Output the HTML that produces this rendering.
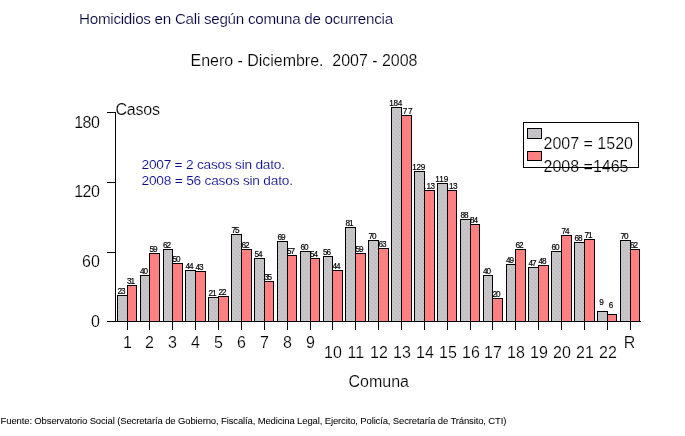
<!DOCTYPE html>
<html lang="es"><head><meta charset="utf-8"><title>Homicidios en Cali según comuna de ocurrencia</title>
<style>
html,body{margin:0;padding:0;background:#fff;}
body{width:685px;height:436px;overflow:hidden;}
svg{display:block;font-family:"Liberation Sans",sans-serif;shape-rendering:crispEdges;}
text{paint-order:fill stroke;}
</style></head><body>
<svg width="685" height="436" viewBox="0 0 685 436">
<defs><pattern id="g" width="4" height="4" patternUnits="userSpaceOnUse"><rect width="4" height="4" fill="#c7c5c7"/><rect x="1" y="1" width="1" height="1" fill="#bbb9bb"/><rect x="3" y="3" width="1" height="1" fill="#bbb9bb"/></pattern></defs>
<rect width="685" height="436" fill="#fff"/>
<rect x="127" y="285" width="10" height="36" fill="#000"/>
<rect x="128" y="286" width="8" height="35" fill="#ff8080"/>
<text x="131.0" y="283.5" font-size="8.2" text-anchor="middle" fill="#000" stroke="#000" stroke-width="0.18" textLength="8.1" lengthAdjust="spacing">31</text>
<rect x="149" y="253" width="11" height="68" fill="#000"/>
<rect x="150" y="254" width="9" height="67" fill="#ff8080"/>
<text x="153.5" y="251.5" font-size="8.2" text-anchor="middle" fill="#000" stroke="#000" stroke-width="0.18" textLength="8.1" lengthAdjust="spacing">59</text>
<rect x="172" y="263" width="11" height="58" fill="#000"/>
<rect x="173" y="264" width="9" height="57" fill="#ff8080"/>
<text x="176.5" y="261.5" font-size="8.2" text-anchor="middle" fill="#000" stroke="#000" stroke-width="0.18" textLength="8.1" lengthAdjust="spacing">50</text>
<rect x="195" y="271" width="11" height="50" fill="#000"/>
<rect x="196" y="272" width="9" height="49" fill="#ff8080"/>
<text x="199.5" y="269.5" font-size="8.2" text-anchor="middle" fill="#000" stroke="#000" stroke-width="0.18" textLength="8.1" lengthAdjust="spacing">43</text>
<rect x="218" y="296" width="11" height="25" fill="#000"/>
<rect x="219" y="297" width="9" height="24" fill="#ff8080"/>
<text x="222.5" y="294.5" font-size="8.2" text-anchor="middle" fill="#000" stroke="#000" stroke-width="0.18" textLength="8.1" lengthAdjust="spacing">22</text>
<rect x="241" y="249" width="11" height="72" fill="#000"/>
<rect x="242" y="250" width="9" height="71" fill="#ff8080"/>
<text x="245.5" y="247.5" font-size="8.2" text-anchor="middle" fill="#000" stroke="#000" stroke-width="0.18" textLength="8.1" lengthAdjust="spacing">62</text>
<rect x="264" y="281" width="10" height="40" fill="#000"/>
<rect x="265" y="282" width="8" height="39" fill="#ff8080"/>
<text x="268.0" y="279.5" font-size="8.2" text-anchor="middle" fill="#000" stroke="#000" stroke-width="0.18" textLength="8.1" lengthAdjust="spacing">35</text>
<rect x="287" y="255" width="10" height="66" fill="#000"/>
<rect x="288" y="256" width="8" height="65" fill="#ff8080"/>
<text x="291.0" y="253.5" font-size="8.2" text-anchor="middle" fill="#000" stroke="#000" stroke-width="0.18" textLength="8.1" lengthAdjust="spacing">57</text>
<rect x="310" y="258" width="10" height="63" fill="#000"/>
<rect x="311" y="259" width="8" height="62" fill="#ff8080"/>
<text x="314.0" y="256.5" font-size="8.2" text-anchor="middle" fill="#000" stroke="#000" stroke-width="0.18" textLength="8.1" lengthAdjust="spacing">54</text>
<rect x="332" y="270" width="11" height="51" fill="#000"/>
<rect x="333" y="271" width="9" height="50" fill="#ff8080"/>
<text x="336.5" y="268.5" font-size="8.2" text-anchor="middle" fill="#000" stroke="#000" stroke-width="0.18" textLength="8.1" lengthAdjust="spacing">44</text>
<rect x="355" y="253" width="11" height="68" fill="#000"/>
<rect x="356" y="254" width="9" height="67" fill="#ff8080"/>
<text x="359.5" y="251.5" font-size="8.2" text-anchor="middle" fill="#000" stroke="#000" stroke-width="0.18" textLength="8.1" lengthAdjust="spacing">59</text>
<rect x="378" y="248" width="11" height="73" fill="#000"/>
<rect x="379" y="249" width="9" height="72" fill="#ff8080"/>
<text x="382.5" y="246.5" font-size="8.2" text-anchor="middle" fill="#000" stroke="#000" stroke-width="0.18" textLength="8.1" lengthAdjust="spacing">63</text>
<rect x="401" y="115" width="11" height="206" fill="#000"/>
<rect x="402" y="116" width="9" height="205" fill="#ff8080"/>
<text x="397.90 402.70 407.90" y="113.5" font-size="8.2" text-anchor="start" fill="#000" stroke="#000" stroke-width="0.18">177</text>
<rect x="424" y="190" width="11" height="131" fill="#000"/>
<rect x="425" y="191" width="9" height="130" fill="#ff8080"/>
<text x="421.40 426.50 430.60" y="188.5" font-size="8.2" text-anchor="start" fill="#000" stroke="#000" stroke-width="0.18">113</text>
<rect x="447" y="190" width="10" height="131" fill="#000"/>
<rect x="448" y="191" width="8" height="130" fill="#ff8080"/>
<text x="443.90 449.00 453.10" y="188.5" font-size="8.2" text-anchor="start" fill="#000" stroke="#000" stroke-width="0.18">113</text>
<rect x="470" y="224" width="10" height="97" fill="#000"/>
<rect x="471" y="225" width="8" height="96" fill="#ff8080"/>
<text x="474.0" y="222.5" font-size="8.2" text-anchor="middle" fill="#000" stroke="#000" stroke-width="0.18" textLength="8.1" lengthAdjust="spacing">84</text>
<rect x="492" y="298" width="11" height="23" fill="#000"/>
<rect x="493" y="299" width="9" height="22" fill="#ff8080"/>
<text x="496.5" y="296.5" font-size="8.2" text-anchor="middle" fill="#000" stroke="#000" stroke-width="0.18" textLength="8.1" lengthAdjust="spacing">20</text>
<rect x="515" y="249" width="11" height="72" fill="#000"/>
<rect x="516" y="250" width="9" height="71" fill="#ff8080"/>
<text x="519.5" y="247.5" font-size="8.2" text-anchor="middle" fill="#000" stroke="#000" stroke-width="0.18" textLength="8.1" lengthAdjust="spacing">62</text>
<rect x="538" y="265" width="11" height="56" fill="#000"/>
<rect x="539" y="266" width="9" height="55" fill="#ff8080"/>
<text x="542.5" y="263.5" font-size="8.2" text-anchor="middle" fill="#000" stroke="#000" stroke-width="0.18" textLength="8.1" lengthAdjust="spacing">48</text>
<rect x="561" y="235" width="11" height="86" fill="#000"/>
<rect x="562" y="236" width="9" height="85" fill="#ff8080"/>
<text x="565.5" y="233.5" font-size="8.2" text-anchor="middle" fill="#000" stroke="#000" stroke-width="0.18" textLength="8.1" lengthAdjust="spacing">74</text>
<rect x="584" y="239" width="11" height="82" fill="#000"/>
<rect x="585" y="240" width="9" height="81" fill="#ff8080"/>
<text x="588.5" y="237.5" font-size="8.2" text-anchor="middle" fill="#000" stroke="#000" stroke-width="0.18" textLength="8.1" lengthAdjust="spacing">71</text>
<rect x="607" y="314" width="10" height="7" fill="#000"/>
<rect x="608" y="315" width="8" height="6" fill="#ff8080"/>
<text x="611.0" y="307.5" font-size="8.2" text-anchor="middle" fill="#000" stroke="#000" stroke-width="0.18">6</text>
<rect x="630" y="249" width="10" height="72" fill="#000"/>
<rect x="631" y="250" width="8" height="71" fill="#ff8080"/>
<text x="634.0" y="247.5" font-size="8.2" text-anchor="middle" fill="#000" stroke="#000" stroke-width="0.18" textLength="8.1" lengthAdjust="spacing">62</text>
<rect x="117" y="295" width="11" height="26" fill="#000"/>
<rect x="118" y="296" width="9" height="25" fill="url(#g)"/>
<text x="121.5" y="293.5" font-size="8.2" text-anchor="middle" fill="#000" stroke="#000" stroke-width="0.18" textLength="8.1" lengthAdjust="spacing">23</text>
<rect x="140" y="275" width="10" height="46" fill="#000"/>
<rect x="141" y="276" width="8" height="45" fill="url(#g)"/>
<text x="144.0" y="273.5" font-size="8.2" text-anchor="middle" fill="#000" stroke="#000" stroke-width="0.18" textLength="8.1" lengthAdjust="spacing">40</text>
<rect x="163" y="249" width="10" height="72" fill="#000"/>
<rect x="164" y="250" width="8" height="71" fill="url(#g)"/>
<text x="167.0" y="247.5" font-size="8.2" text-anchor="middle" fill="#000" stroke="#000" stroke-width="0.18" textLength="8.1" lengthAdjust="spacing">62</text>
<rect x="185" y="270" width="11" height="51" fill="#000"/>
<rect x="186" y="271" width="9" height="50" fill="url(#g)"/>
<text x="189.5" y="268.5" font-size="8.2" text-anchor="middle" fill="#000" stroke="#000" stroke-width="0.18" textLength="8.1" lengthAdjust="spacing">44</text>
<rect x="208" y="297" width="11" height="24" fill="#000"/>
<rect x="209" y="298" width="9" height="23" fill="url(#g)"/>
<text x="212.5" y="295.5" font-size="8.2" text-anchor="middle" fill="#000" stroke="#000" stroke-width="0.18" textLength="8.1" lengthAdjust="spacing">21</text>
<rect x="231" y="234" width="11" height="87" fill="#000"/>
<rect x="232" y="235" width="9" height="86" fill="url(#g)"/>
<text x="235.5" y="232.5" font-size="8.2" text-anchor="middle" fill="#000" stroke="#000" stroke-width="0.18" textLength="8.1" lengthAdjust="spacing">75</text>
<rect x="254" y="258" width="11" height="63" fill="#000"/>
<rect x="255" y="259" width="9" height="62" fill="url(#g)"/>
<text x="258.5" y="256.5" font-size="8.2" text-anchor="middle" fill="#000" stroke="#000" stroke-width="0.18" textLength="8.1" lengthAdjust="spacing">54</text>
<rect x="277" y="241" width="11" height="80" fill="#000"/>
<rect x="278" y="242" width="9" height="79" fill="url(#g)"/>
<text x="281.5" y="239.5" font-size="8.2" text-anchor="middle" fill="#000" stroke="#000" stroke-width="0.18" textLength="8.1" lengthAdjust="spacing">69</text>
<rect x="300" y="251" width="11" height="70" fill="#000"/>
<rect x="301" y="252" width="9" height="69" fill="url(#g)"/>
<text x="304.5" y="249.5" font-size="8.2" text-anchor="middle" fill="#000" stroke="#000" stroke-width="0.18" textLength="8.1" lengthAdjust="spacing">60</text>
<rect x="323" y="256" width="10" height="65" fill="#000"/>
<rect x="324" y="257" width="8" height="64" fill="url(#g)"/>
<text x="327.0" y="254.5" font-size="8.2" text-anchor="middle" fill="#000" stroke="#000" stroke-width="0.18" textLength="8.1" lengthAdjust="spacing">56</text>
<rect x="345" y="227" width="11" height="94" fill="#000"/>
<rect x="346" y="228" width="9" height="93" fill="url(#g)"/>
<text x="349.5" y="225.5" font-size="8.2" text-anchor="middle" fill="#000" stroke="#000" stroke-width="0.18" textLength="8.1" lengthAdjust="spacing">81</text>
<rect x="368" y="240" width="11" height="81" fill="#000"/>
<rect x="369" y="241" width="9" height="80" fill="url(#g)"/>
<text x="372.5" y="238.5" font-size="8.2" text-anchor="middle" fill="#000" stroke="#000" stroke-width="0.18" textLength="8.1" lengthAdjust="spacing">70</text>
<rect x="391" y="107" width="11" height="214" fill="#000"/>
<rect x="392" y="108" width="9" height="213" fill="url(#g)"/>
<text x="395.8" y="105.5" font-size="8.2" text-anchor="middle" fill="#000" stroke="#000" stroke-width="0.18" textLength="12.9" lengthAdjust="spacing">184</text>
<rect x="414" y="171" width="11" height="150" fill="#000"/>
<rect x="415" y="172" width="9" height="149" fill="url(#g)"/>
<text x="418.8" y="169.5" font-size="8.2" text-anchor="middle" fill="#000" stroke="#000" stroke-width="0.18" textLength="12.9" lengthAdjust="spacing">129</text>
<rect x="437" y="183" width="11" height="138" fill="#000"/>
<rect x="438" y="184" width="9" height="137" fill="url(#g)"/>
<text x="441.8" y="181.5" font-size="8.2" text-anchor="middle" fill="#000" stroke="#000" stroke-width="0.18" textLength="12.9" lengthAdjust="spacing">119</text>
<rect x="460" y="219" width="11" height="102" fill="#000"/>
<rect x="461" y="220" width="9" height="101" fill="url(#g)"/>
<text x="464.5" y="217.5" font-size="8.2" text-anchor="middle" fill="#000" stroke="#000" stroke-width="0.18" textLength="8.1" lengthAdjust="spacing">88</text>
<rect x="483" y="275" width="10" height="46" fill="#000"/>
<rect x="484" y="276" width="8" height="45" fill="url(#g)"/>
<text x="487.0" y="273.5" font-size="8.2" text-anchor="middle" fill="#000" stroke="#000" stroke-width="0.18" textLength="8.1" lengthAdjust="spacing">40</text>
<rect x="506" y="264" width="10" height="57" fill="#000"/>
<rect x="507" y="265" width="8" height="56" fill="url(#g)"/>
<text x="510.0" y="262.5" font-size="8.2" text-anchor="middle" fill="#000" stroke="#000" stroke-width="0.18" textLength="8.1" lengthAdjust="spacing">49</text>
<rect x="528" y="267" width="11" height="54" fill="#000"/>
<rect x="529" y="268" width="9" height="53" fill="url(#g)"/>
<text x="532.5" y="265.5" font-size="8.2" text-anchor="middle" fill="#000" stroke="#000" stroke-width="0.18" textLength="8.1" lengthAdjust="spacing">47</text>
<rect x="551" y="251" width="11" height="70" fill="#000"/>
<rect x="552" y="252" width="9" height="69" fill="url(#g)"/>
<text x="555.5" y="249.5" font-size="8.2" text-anchor="middle" fill="#000" stroke="#000" stroke-width="0.18" textLength="8.1" lengthAdjust="spacing">60</text>
<rect x="574" y="242" width="11" height="79" fill="#000"/>
<rect x="575" y="243" width="9" height="78" fill="url(#g)"/>
<text x="578.5" y="240.5" font-size="8.2" text-anchor="middle" fill="#000" stroke="#000" stroke-width="0.18" textLength="8.1" lengthAdjust="spacing">68</text>
<rect x="597" y="311" width="11" height="10" fill="#000"/>
<rect x="598" y="312" width="9" height="9" fill="url(#g)"/>
<text x="601.5" y="304.5" font-size="8.2" text-anchor="middle" fill="#000" stroke="#000" stroke-width="0.18">9</text>
<rect x="620" y="240" width="11" height="81" fill="#000"/>
<rect x="621" y="241" width="9" height="80" fill="url(#g)"/>
<text x="624.5" y="238.5" font-size="8.2" text-anchor="middle" fill="#000" stroke="#000" stroke-width="0.18" textLength="8.1" lengthAdjust="spacing">70</text>
<rect x="127" y="321" width="1" height="9" fill="#000"/>
<text x="127.5" y="347.5" font-size="16" text-anchor="middle" fill="#000" stroke="#fff" stroke-width="0.18">1</text>
<rect x="149" y="321" width="1" height="9" fill="#000"/>
<text x="149.5" y="347.5" font-size="16" text-anchor="middle" fill="#000" stroke="#fff" stroke-width="0.18">2</text>
<rect x="172" y="321" width="1" height="9" fill="#000"/>
<text x="172.5" y="347.5" font-size="16" text-anchor="middle" fill="#000" stroke="#fff" stroke-width="0.18">3</text>
<rect x="195" y="321" width="1" height="9" fill="#000"/>
<text x="195.5" y="347.5" font-size="16" text-anchor="middle" fill="#000" stroke="#fff" stroke-width="0.18">4</text>
<rect x="218" y="321" width="1" height="9" fill="#000"/>
<text x="218.5" y="347.5" font-size="16" text-anchor="middle" fill="#000" stroke="#fff" stroke-width="0.18">5</text>
<rect x="241" y="321" width="1" height="9" fill="#000"/>
<text x="241.5" y="347.5" font-size="16" text-anchor="middle" fill="#000" stroke="#fff" stroke-width="0.18">6</text>
<rect x="264" y="321" width="1" height="9" fill="#000"/>
<text x="264.5" y="347.5" font-size="16" text-anchor="middle" fill="#000" stroke="#fff" stroke-width="0.18">7</text>
<rect x="287" y="321" width="1" height="9" fill="#000"/>
<text x="287.5" y="347.5" font-size="16" text-anchor="middle" fill="#000" stroke="#fff" stroke-width="0.18">8</text>
<rect x="310" y="321" width="1" height="9" fill="#000"/>
<text x="310.5" y="347.5" font-size="16" text-anchor="middle" fill="#000" stroke="#fff" stroke-width="0.18">9</text>
<rect x="332" y="321" width="1" height="9" fill="#000"/>
<text x="332.9" y="358" font-size="16" text-anchor="middle" fill="#000" stroke="#fff" stroke-width="0.18">10</text>
<rect x="355" y="321" width="1" height="9" fill="#000"/>
<text x="355.9" y="358" font-size="16" text-anchor="middle" fill="#000" stroke="#fff" stroke-width="0.18">11</text>
<rect x="378" y="321" width="1" height="9" fill="#000"/>
<text x="378.9" y="358" font-size="16" text-anchor="middle" fill="#000" stroke="#fff" stroke-width="0.18">12</text>
<rect x="401" y="321" width="1" height="9" fill="#000"/>
<text x="401.9" y="358" font-size="16" text-anchor="middle" fill="#000" stroke="#fff" stroke-width="0.18">13</text>
<rect x="424" y="321" width="1" height="9" fill="#000"/>
<text x="424.9" y="358" font-size="16" text-anchor="middle" fill="#000" stroke="#fff" stroke-width="0.18">14</text>
<rect x="447" y="321" width="1" height="9" fill="#000"/>
<text x="447.9" y="358" font-size="16" text-anchor="middle" fill="#000" stroke="#fff" stroke-width="0.18">15</text>
<rect x="470" y="321" width="1" height="9" fill="#000"/>
<text x="470.9" y="358" font-size="16" text-anchor="middle" fill="#000" stroke="#fff" stroke-width="0.18">16</text>
<rect x="492" y="321" width="1" height="9" fill="#000"/>
<text x="492.9" y="358" font-size="16" text-anchor="middle" fill="#000" stroke="#fff" stroke-width="0.18">17</text>
<rect x="515" y="321" width="1" height="9" fill="#000"/>
<text x="515.9" y="358" font-size="16" text-anchor="middle" fill="#000" stroke="#fff" stroke-width="0.18">18</text>
<rect x="538" y="321" width="1" height="9" fill="#000"/>
<text x="538.9" y="358" font-size="16" text-anchor="middle" fill="#000" stroke="#fff" stroke-width="0.18">19</text>
<rect x="561" y="321" width="1" height="9" fill="#000"/>
<text x="561.9" y="358" font-size="16" text-anchor="middle" fill="#000" stroke="#fff" stroke-width="0.18">20</text>
<rect x="584" y="321" width="1" height="9" fill="#000"/>
<text x="584.9" y="358" font-size="16" text-anchor="middle" fill="#000" stroke="#fff" stroke-width="0.18">21</text>
<rect x="607" y="321" width="1" height="9" fill="#000"/>
<text x="607.9" y="358" font-size="16" text-anchor="middle" fill="#000" stroke="#fff" stroke-width="0.18">22</text>
<rect x="630" y="321" width="1" height="9" fill="#000"/>
<text x="629.5" y="347.5" font-size="16" text-anchor="middle" fill="#000" stroke="#fff" stroke-width="0.18">R</text>
<rect x="115" y="112" width="1" height="210" fill="#000"/>
<rect x="107" y="321" width="534" height="1" fill="#000"/>
<rect x="107" y="321" width="9" height="1" fill="#000"/>
<text x="99.8" y="327" font-size="16" text-anchor="end" fill="#000" stroke="#fff" stroke-width="0.18">0</text>
<rect x="107" y="252" width="9" height="1" fill="#000"/>
<text x="99.8" y="266.5" font-size="16" text-anchor="end" fill="#000" stroke="#fff" stroke-width="0.18">60</text>
<rect x="107" y="182" width="9" height="1" fill="#000"/>
<text x="99.8" y="196.6" font-size="16" text-anchor="end" fill="#000" stroke="#fff" stroke-width="0.18" textLength="25.6" lengthAdjust="spacing">120</text>
<rect x="107" y="112" width="9" height="1" fill="#000"/>
<text x="99.8" y="127.6" font-size="16" text-anchor="end" fill="#000" stroke="#fff" stroke-width="0.18" textLength="25.6" lengthAdjust="spacing">180</text>
<text x="115.5" y="115" font-size="16" text-anchor="start" fill="#000" stroke="#fff" stroke-width="0.18" textLength="44.4" lengthAdjust="spacing">Casos</text>
<text x="348.5" y="386.75" font-size="16" text-anchor="start" fill="#000" stroke="#fff" stroke-width="0.18">Comuna</text>
<text x="79.1" y="24" font-size="15.2" text-anchor="start" fill="#00003c" stroke="#fff" stroke-width="0.18" textLength="314" lengthAdjust="spacing">Homicidios en Cali según comuna de ocurrencia</text>
<text x="190.5" y="65.75" font-size="16" text-anchor="start" fill="#000" stroke="#fff" stroke-width="0.18" textLength="227" lengthAdjust="spacing" style="white-space:pre">Enero - Diciembre.  2007 - 2008</text>
<text x="141.5" y="169" font-size="13.7" text-anchor="start" fill="#0c0c90" stroke="#fff" stroke-width="0.12" textLength="143.5" lengthAdjust="spacing">2007 = 2 casos sin dato.</text>
<text x="141.5" y="185" font-size="13.7" text-anchor="start" fill="#0c0c90" stroke="#fff" stroke-width="0.12" textLength="151.5" lengthAdjust="spacing">2008 = 56 casos sin dato.</text>
<text x="0.6" y="423.75" font-size="9.5" text-anchor="start" fill="#000" stroke="#000" stroke-width="0.04" textLength="505.8" lengthAdjust="spacing">Fuente: Observatorio Social (Secretaría de Gobierno, Fiscalía, Medicina Legal, Ejercito, Policía, Secretaría de Tránsito, CTI)</text>
<rect x="527" y="128" width="15" height="11" fill="#000"/>
<rect x="528" y="129" width="13" height="9" fill="url(#g)"/>
<rect x="527" y="151" width="15" height="10" fill="#000"/>
<rect x="528" y="152" width="13" height="8" fill="#ff8080"/>
<text x="543.5" y="148.8" font-size="16" text-anchor="start" fill="#000" stroke="#fff" stroke-width="0.18">2007 = 1520</text>
<text x="543.5" y="171.7" font-size="16" text-anchor="start" fill="#000" stroke="#fff" stroke-width="0.18">2008 =1465</text>
<rect x="523" y="122" width="116" height="1" fill="#000"/>
<rect x="523" y="167" width="116" height="1" fill="#000"/>
<rect x="523" y="122" width="1" height="46" fill="#000"/>
<rect x="638" y="122" width="1" height="46" fill="#000"/>
</svg>
</body></html>
